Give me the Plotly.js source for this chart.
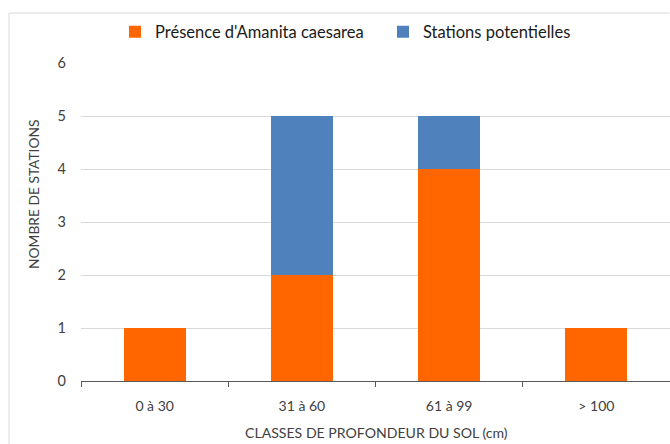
<!DOCTYPE html>
<html>
<head>
<meta charset="utf-8">
<script src="https://cdn.plot.ly/plotly-3.0.1.min.js"></script>
<style>html,body{margin:0;padding:0;background:#fff;}#chart{width:670px;height:444px;}</style>
</head>
<body>
<div id="chart"></div>
<script>
const categories = ["0 à 30", "31 à 60", "61 à 99", "> 100"];
const presence = [1, 2, 4, 1];
const potentielles = [0, 3, 1, 0];
const seriesNames = ["Présence d'Amanita caesarea", "Stations potentielles"];
const yTicks = [0, 1, 2, 3, 4, 5, 6];

const FONT = "Lato, 'Open Sans', sans-serif";
const L = 81, R = 0, T = 63, B = 63;
const PW = 670 - L - R, PH = 444 - T - B;
const px = x => (x - L) / PW;
const py = y => (444 - B - y) / PH;

const traces = [
  {type: "bar", x: categories, y: presence, name: seriesNames[0],
   marker: {color: "#FF6600"}, hoverinfo: "skip"},
  {type: "bar", x: categories, y: potentielles, name: seriesNames[1],
   marker: {color: "#4F81BD"}, hoverinfo: "skip"}
];

const layout = {
  width: 670, height: 444,
  margin: {l: L, r: R, t: T, b: B, pad: 0},
  paper_bgcolor: "#fff", plot_bgcolor: "#fff",
  barmode: "stack", bargap: 0.579,
  font: {family: FONT, color: "#404040", size: 13},
  showlegend: true,
  legend: {orientation: "h", x: px(115), y: py(32), xanchor: "left", yanchor: "middle",
           bgcolor: "rgba(0,0,0,0)",
           font: {family: FONT, size: 16.5, color: "#1a1a1a"}, itemwidth: 30, tracegroupgap: 0,
           entrywidth: 223, entrywidthmode: "pixels", traceorder: "normal"},
  xaxis: {type: "category", tickson: "boundaries", ticks: "outside", ticklen: 5,
          tickcolor: "#595959", showline: true, linecolor: "#595959", linewidth: 1.3,
          showgrid: false, tickfont: {family: FONT, size: 14, color: "#404040"},
          ticklabelstandoff: 12, fixedrange: true},
  yaxis: {range: [0, 6], tickvals: yTicks, ticktext: yTicks.map(String), showgrid: true,
          gridcolor: "#d9d9d9", gridwidth: 1, zeroline: false, showline: false, ticks: "",
          tickfont: {family: FONT, size: 14.5, color: "#404040"}, ticklabelstandoff: 14,
          fixedrange: true},
  annotations: [
    {text: "CLASSES DE PROFONDEUR DU SOL (cm)", xref: "paper", yref: "paper",
     x: px(376), y: py(432), xanchor: "center", yanchor: "middle", showarrow: false,
     font: {family: FONT, size: 14.1, color: "#404040"}},
    {text: "NOMBRE DE STATIONS", xref: "paper", yref: "paper", textangle: -90,
     x: px(33), y: py(194), xanchor: "center", yanchor: "middle", showarrow: false,
     font: {family: FONT, size: 13.8, color: "#404040"}}
  ],
  shapes: [
    {type: "path", xref: "paper", yref: "paper",
     path: `M ${px(9)} ${py(450)} L ${px(9)} ${py(13)} L ${px(669.5)} ${py(13)}`,
     line: {color: "#d9d9d9", width: 1}}
  ]
};

Plotly.newPlot("chart", traces, layout, {displayModeBar: false, staticPlot: true});
</script>
</body>
</html>
